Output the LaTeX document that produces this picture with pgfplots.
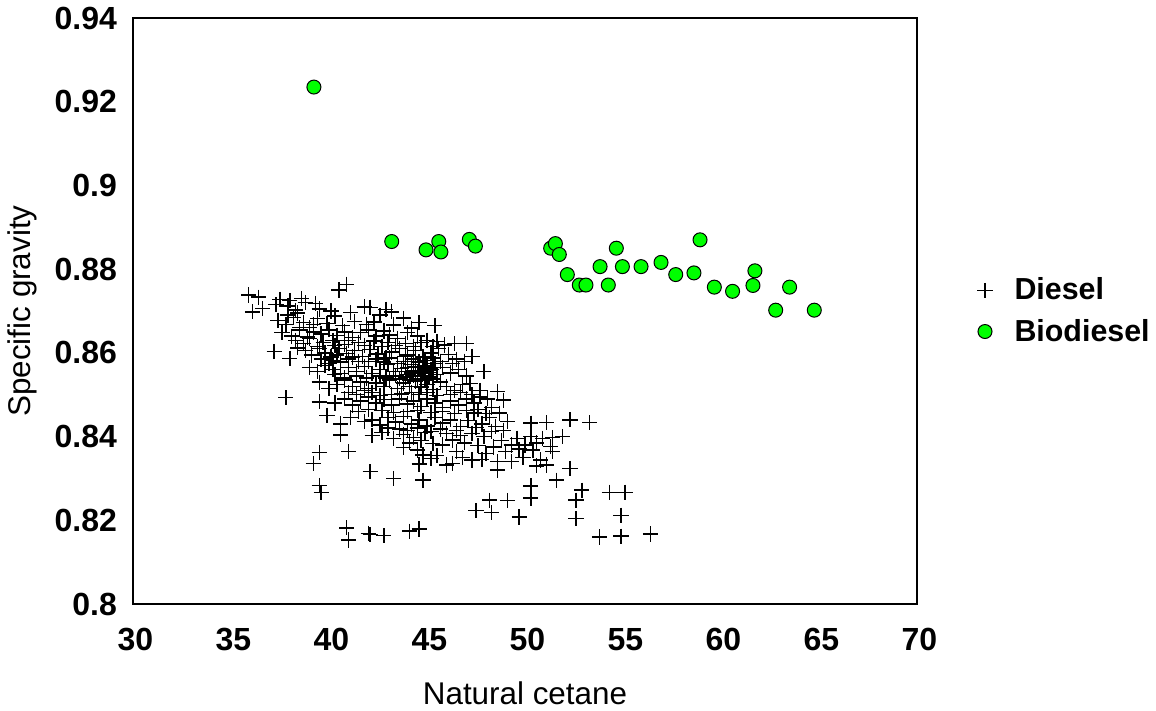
\documentclass[border=0pt]{standalone}
\usepackage{pgfplots}
\pgfplotsset{compat=1.18}
\usepackage{fontspec}
\setmainfont{Liberation Sans}
\definecolor{biogreen}{RGB}{0,255,0}
\begin{document}
\begin{tikzpicture}
\useasboundingbox (-66.5pt,-53.5pt) rectangle (511.5pt,302pt);
\begin{axis}[
  at={(0,0)}, anchor=south west,
  scale only axis, width=392pt, height=293pt,
  xmin=30, xmax=70, ymin=0.8, ymax=0.94,
  xtick={30,35,40,45,50,55,60,65,70},
  xticklabels={30,35,40,45,50,55,60,65,70},
  ytick={0.8,0.82,0.84,0.86,0.88,0.9,0.92,0.94},
  yticklabels={0.8,0.82,0.84,0.86,0.88,0.9,0.92,0.94},
  major tick length=0pt,
  /pgf/number format/assume math mode=true,
  ticklabel style={font=\fontsize{16}{19}\selectfont\bfseries},
  xticklabel style={anchor=north, yshift=-8.5pt, xshift=1.2pt},
  yticklabel style={anchor=east, xshift=-4.5pt},
  axis line style={black, line width=0.7pt},
  every axis x label/.style={at={(rel axis cs:0.5,-0.152)}, anchor=center, font=\fontsize{15.7}{18}\selectfont},
  every axis y label/.style={at={(rel axis cs:-0.1416,0.5)}, anchor=center, rotate=90, font=\fontsize{15.7}{18}\selectfont},
  xlabel={Natural cetane},
  ylabel={Specific gravity},
  legend style={at={(rel axis cs:1,0.5)}, anchor=west, xshift=27pt, draw=none, fill=none,
    font=\fontsize{15.2}{18}\selectfont\bfseries, row sep=4pt},
  legend cell align=left,
  legend image code/.code={\path (-3.4pt,0pt) (12.4pt,0pt); \draw[#1] plot coordinates {(0pt,0pt)};},
]
\addplot[only marks, mark=+, mark size=3.8pt, black, line width=0.7pt] coordinates {
(35.9,0.8738)(36.4,0.8733)(37.5,0.8728)(38.0,0.8725)(38.6,0.8730)(39.3,0.8718)(40.9,0.8764)(40.5,0.8750)
(36.1,0.8698)(36.6,0.8706)(37.3,0.8715)(37.9,0.8712)(38.3,0.8702)(38.8,0.8720)(39.5,0.8705)(40.1,0.8700)(41.1,0.8696)(41.8,0.8710)(42.1,0.8709)(42.9,0.8704)(43.2,0.8698)
(37.4,0.8678)(37.8,0.8668)(38.2,0.8685)(38.7,0.8672)(39.0,0.8660)(39.4,0.8682)(39.9,0.8670)(40.3,0.8688)(40.7,0.8665)(41.3,0.8675)(41.9,0.8668)(42.3,0.8674)(42.6,0.8690)(43.3,0.8667)(43.8,0.8683)(44.2,0.8659)(44.6,0.8672)(45.4,0.8665)
(37.6,0.8648)(38.1,0.8640)(38.5,0.8655)(38.9,0.8638)(39.2,0.8650)(39.6,0.8645)(40.0,0.8655)(40.4,0.8642)(40.8,0.8650)(41.2,0.8636)(41.6,0.8648)(42.0,0.8655)(42.4,0.8640)(42.8,0.8652)(43.1,0.8643)(43.5,0.8635)(44.0,0.8648)(44.5,0.8640)(45.0,0.8630)(45.5,0.8627)(45.9,0.8619)(46.4,0.8622)
(37.2,0.8603)(38.0,0.8587)(38.4,0.8612)(38.8,0.8605)(39.1,0.8595)(39.4,0.8615)(39.8,0.8600)(40.1,0.8590)(40.5,0.8610)(40.9,0.8598)(41.3,0.8605)(41.7,0.8592)(42.1,0.8608)(42.5,0.8597)(42.9,0.8588)(43.2,0.8602)(43.6,0.8610)(44.0,0.8595)(44.4,0.8605)(44.8,0.8590)(45.2,0.8600)(45.6,0.8610)(46.1,0.8596)(46.5,0.8585)(47.0,0.8623)(47.3,0.8592)
(39.0,0.8565)(39.4,0.8555)(39.8,0.8570)(40.2,0.8560)(40.6,0.8550)(41.0,0.8565)(41.4,0.8555)(41.8,0.8568)(42.2,0.8550)(42.6,0.8560)(43.0,0.8572)(43.3,0.8555)(43.7,0.8562)(44.0,0.8548)(44.3,0.8558)(44.6,0.8565)(44.9,0.8552)(45.2,0.8560)(45.5,0.8548)(45.8,0.8565)(46.2,0.8552)(46.6,0.8560)(47.0,0.8545)(47.9,0.8555)
(39.5,0.8530)(40.0,0.8515)(40.4,0.8525)(40.8,0.8535)(41.2,0.8520)(41.6,0.8530)(42.0,0.8515)(42.4,0.8528)(42.8,0.8520)(43.1,0.8535)(43.5,0.8515)(43.8,0.8528)(44.1,0.8520)(44.4,0.8532)(44.7,0.8518)(45.0,0.8525)(45.3,0.8512)(45.7,0.8530)(46.0,0.8520)(46.4,0.8510)(46.8,0.8525)(47.2,0.8527)(47.7,0.8510)
(37.8,0.8493)(39.5,0.8483)(40.3,0.8480)(40.8,0.8490)(41.2,0.8475)(41.6,0.8485)(42.0,0.8495)(42.4,0.8480)(42.8,0.8488)(43.2,0.8475)(43.6,0.8490)(44.0,0.8478)(44.3,0.8485)(44.7,0.8472)(45.0,0.8490)(45.4,0.8480)(45.8,0.8470)(46.2,0.8485)(46.6,0.8475)(47.0,0.8490)(47.4,0.8480)(47.7,0.8495)(48.6,0.8507)(48.9,0.8487)
(39.9,0.8451)(40.6,0.8430)(41.1,0.8445)(41.8,0.8436)(42.2,0.8440)(42.6,0.8428)(43.0,0.8445)(43.4,0.8435)(43.8,0.8448)(44.2,0.8430)(44.6,0.8440)(45.0,0.8425)(45.4,0.8445)(45.8,0.8432)(46.2,0.8440)(46.7,0.8424)(47.1,0.8438)(47.4,0.8456)(47.8,0.8430)(48.2,0.8445)(48.5,0.8424)(48.7,0.8456)(49.1,0.8436)(50.3,0.8432)(51.1,0.8433)(52.3,0.8440)(53.3,0.8433)
(40.6,0.8404)(42.2,0.8402)(42.7,0.8410)(43.3,0.8395)(43.8,0.8405)(44.3,0.8398)(44.9,0.8410)(45.3,0.8384)(46.0,0.8408)(46.3,0.8392)(46.7,0.8402)(47.3,0.8408)(47.9,0.8400)(48.3,0.8412)(48.8,0.8390)(49.6,0.8396)(50.3,0.8400)(50.9,0.8396)(51.4,0.8398)(51.9,0.8400)
(39.5,0.8362)(41.0,0.8364)(43.8,0.8374)(44.5,0.8368)(44.8,0.8356)(45.2,0.8348)(46.5,0.8365)(47.3,0.8344)(48.0,0.8360)(49.3,0.8380)(49.7,0.8370)(50.4,0.8368)(51.3,0.8376)(51.4,0.8364)(49.3,0.8340)(48.6,0.8340)(50.8,0.8344)
(39.2,0.8335)(44.6,0.8334)(46.0,0.8332)(46.3,0.8336)(51.1,0.8332)(52.3,0.8324)(48.6,0.8320)(42.1,0.8316)(43.3,0.8300)(44.8,0.8296)(51.6,0.8296)
(39.5,0.8283)(39.6,0.8267)(40.9,0.8182)(41.0,0.8153)(42.0,0.8169)(42.1,0.8166)(42.8,0.8163)(44.1,0.8174)(44.6,0.8179)(50.3,0.8282)(50.3,0.8253)(48.2,0.8248)(49.1,0.8247)(47.5,0.8223)(48.3,0.8218)(49.7,0.8208)(52.9,0.8272)(52.6,0.8248)(52.6,0.8204)(54.3,0.8267)(55.1,0.8267)(54.9,0.8212)(53.8,0.8160)(54.9,0.8162)(56.4,0.8167)
(43.4,0.8545)(43.6,0.8538)(43.9,0.8542)(44.1,0.8535)(44.3,0.8545)(44.5,0.8538)(44.7,0.8545)(44.9,0.8535)(45.1,0.8542)(45.3,0.8538)(43.5,0.8575)(43.8,0.8580)(44.2,0.8572)(44.6,0.8578)(45.0,0.8570)(45.4,0.8575)(42.9,0.8540)(42.6,0.8545)(43.2,0.8500)(43.7,0.8502)(44.2,0.8505)(44.6,0.8500)(45.0,0.8505)(45.5,0.8498)(41.5,0.8580)(41.0,0.8585)(40.6,0.8578)(40.2,0.8582)(41.9,0.8540)(41.4,0.8545)(40.8,0.8540)(40.3,0.8548)(39.7,0.8625)(40.2,0.8630)(40.8,0.8620)(41.5,0.8625)(38.5,0.8660)(39.2,0.8668)(37.9,0.8690)(38.4,0.8695)(45.8,0.8460)(46.4,0.8455)(47.0,0.8462)(44.0,0.8460)(43.3,0.8458)(42.7,0.8462)(42.0,0.8465)
(38.3,0.8630)(38.7,0.8622)(39.0,0.8635)(39.5,0.8610)(40.3,0.8618)(41.0,0.8630)(41.8,0.8618)(42.3,0.8628)(42.7,0.8615)(43.0,0.8625)(43.4,0.8618)(43.9,0.8622)(44.3,0.8615)(44.7,0.8625)(45.3,0.8615)
(39.6,0.8585)(40.0,0.8575)(40.4,0.8595)(41.2,0.8590)(42.0,0.8580)(42.4,0.8585)(42.8,0.8578)(43.1,0.8588)(43.9,0.8592)(44.3,0.8585)(44.9,0.8582)(45.3,0.8588)(45.7,0.8580)(46.3,0.8575)(46.9,0.8580)
(41.0,0.8505)(41.4,0.8500)(41.8,0.8510)(42.2,0.8505)(42.6,0.8498)(46.2,0.8500)(46.7,0.8505)(47.3,0.8500)(48.1,0.8490)(48.3,0.8470)
(41.5,0.8460)(44.5,0.8462)(45.2,0.8458)(47.6,0.8465)(48.0,0.8455)
(43.0,0.8420)(43.6,0.8418)(44.0,0.8415)(44.5,0.8420)(45.2,0.8412)(45.7,0.8418)(46.5,0.8415)(47.5,0.8422)(48.9,0.8415)
(44.1,0.8385)(44.7,0.8390)(45.8,0.8380)(46.9,0.8385)(47.6,0.8378)(48.4,0.8375)(49.0,0.8365)(50.0,0.8380)(50.6,0.8385)
(45.5,0.8355)(46.8,0.8350)(47.8,0.8345)(49.9,0.8350)(50.6,0.8330)
(43.9,0.8555)(44.2,0.8552)(44.5,0.8555)(44.8,0.8558)(45.1,0.8553)(44.0,0.8565)(44.4,0.8568)(44.9,0.8565)(45.3,0.8565)
};
\addlegendentry{Diesel}
\addplot[only marks, mark=*, mark size=3.5pt, mark options={fill=biogreen, draw=black, line width=0.5pt}] coordinates {
(39.23,0.9235)
(43.2,0.8866)(44.95,0.8846)(45.6,0.8866)(45.71,0.8841)(47.16,0.8871)(47.47,0.8855)
(51.31,0.8850)(51.55,0.8861)(51.75,0.8835)(52.16,0.8787)(52.77,0.8762)(53.11,0.8762)
(53.83,0.8806)(54.25,0.8762)(54.66,0.8850)(54.97,0.8806)(55.92,0.8806)(56.94,0.8816)
(57.69,0.8787)(58.62,0.8791)(58.93,0.8870)(59.66,0.8757)(60.59,0.8747)(61.63,0.8761)
(61.73,0.8796)(62.79,0.8702)(63.5,0.8757)(64.76,0.8702)
};
\addlegendentry{Biodiesel}
\draw[gray!60, line width=0.8pt] ([yshift=-1.3pt]rel axis cs:0,0) -- ([yshift=-1.3pt]rel axis cs:1,0);
\end{axis}
\end{tikzpicture}
\end{document}
